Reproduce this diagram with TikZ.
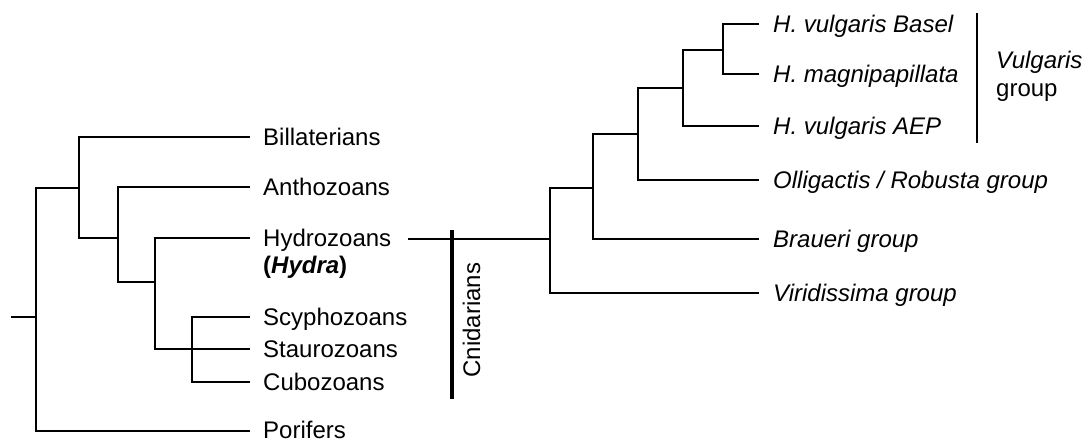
\documentclass[tikz,border=0pt]{standalone}
\usepackage{fontspec}
\setmainfont{Liberation Sans}
\begin{document}
\begin{tikzpicture}[x=1pt,y=-1pt,
  branch/.style={line width=2.3pt, line join=miter},
  leaf/.style={anchor=base west, inner sep=0pt, font=\fontsize{24}{28}\selectfont},
  lleaf/.style={leaf, xshift=13pt, yshift=-8.5pt},
  rleaf/.style={leaf, xshift=14pt, yshift=-8.5pt, font=\fontsize{24}{28}\selectfont\itshape}]
\useasboundingbox (0,0) rectangle (1088,442);
% ---- left tree: coordinates
\coordinate (stub) at (11,317);
\coordinate (root) at (36,317);
\coordinate (nA) at (79,188);
\coordinate (nB) at (118,238);
\coordinate (nC) at (155,282);
\coordinate (nD) at (192,349);
\coordinate (tBil) at (250,137);
\coordinate (tAnt) at (250,187);
\coordinate (tHyd) at (250,238);
\coordinate (tScy) at (250,317);
\coordinate (tSta) at (250,349);
\coordinate (tCub) at (250,382);
\coordinate (tPor) at (250,431);
% ---- left tree: branches
\draw[branch] (stub) -- (root);
\draw[branch] (root) |- (nA);
\draw[branch] (root) |- (tPor);
\draw[branch] (nA) |- (tBil);
\draw[branch] (nA) |- (nB);
\draw[branch] (nB) |- (tAnt);
\draw[branch] (nB) |- (nC);
\draw[branch] (nC) |- (tHyd);
\draw[branch] (nC) |- (nD);
\draw[branch] (nD) |- (tScy);
\draw[branch] (nD) |- (tSta);
\draw[branch] (nD) |- (tCub);
% ---- left labels
\node[lleaf] (lBil) at (tBil) {Billaterians};
\node[lleaf] (lAnt) at (tAnt) {Anthozoans};
\node[lleaf] (lHyd) at (tHyd) {Hydrozoans};
\node[leaf] (lHydra) at (263,273) {\textbf{(\textit{Hydra})}};
\node[lleaf] (lScy) at (tScy) {Scyphozoans};
\node[lleaf] (lSta) at (tSta) {Staurozoans};
\node[lleaf] (lCub) at (tCub) {Cubozoans};
\node[lleaf, yshift=1.5pt] (lPor) at (tPor) {Porifers};
% ---- Cnidarians bar
\coordinate (cTop) at (452,230);
\coordinate (cBot) at (452,399);
\draw[line width=4pt] (cTop) -- (cBot);
\node[rotate=90, anchor=base, inner sep=0pt, font=\fontsize{24}{28}\selectfont] (cnid) at (480,320) {Cnidarians};
% ---- right tree: coordinates
\coordinate (hz) at (408,239);
\coordinate (r1) at (550,239);
\coordinate (r2) at (593,188);
\coordinate (r3) at (638,134);
\coordinate (r4) at (683,88);
\coordinate (r5) at (723,50);
\coordinate (tBas) at (759,24);
\coordinate (tMag) at (759,74);
\coordinate (tAEP) at (759,126);
\coordinate (tOll) at (759,180);
\coordinate (tBra) at (759,239);
\coordinate (tVir) at (759,293);
% ---- right tree: branches
\draw[branch] (hz) -- (r1);
\draw[branch] (r1) |- (r2);
\draw[branch] (r1) |- (tVir);
\draw[branch] (r2) |- (r3);
\draw[branch] (r2) |- (tBra);
\draw[branch] (r3) |- (r4);
\draw[branch] (r3) |- (tOll);
\draw[branch] (r4) |- (r5);
\draw[branch] (r4) |- (tAEP);
\draw[branch] (r5) |- (tBas);
\draw[branch] (r5) |- (tMag);
% ---- right labels
\node[rleaf] (lBas) at (tBas) {H. vulgaris Basel};
\node[rleaf] (lMag) at (tMag) {H. magnipapillata};
\node[rleaf] (lAEP) at (tAEP) {H. vulgaris AEP};
\node[rleaf] (lOll) at (tOll) {Olligactis / Robusta group};
\node[rleaf] (lBra) at (tBra) {Braueri group};
\node[rleaf] (lVir) at (tVir) {Viridissima group};
% ---- Vulgaris group bracket
\coordinate (vTop) at (977,13);
\coordinate (vBot) at (977,143);
\draw[line width=2pt] (vTop) -- (vBot);
\node[leaf] (vulg) at (996,68) {\itshape Vulgaris};
\node[leaf] (grp) at (996,96) {group};
\end{tikzpicture}
\end{document}
